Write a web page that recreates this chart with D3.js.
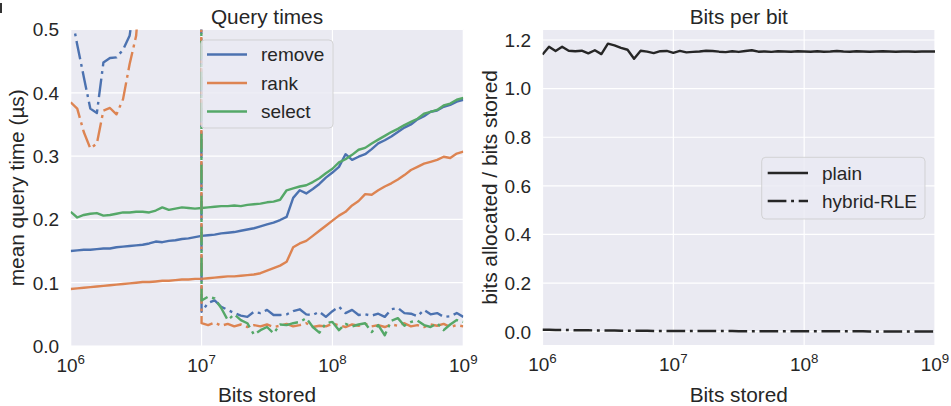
<!DOCTYPE html>
<html lang="en">
<head>
<meta charset="utf-8">
<title>Query times / Bits per bit</title>
<script src="https://d3js.org/d3.v7.min.js"></script>
<style>
  body { margin: 0; background: #fff; }
  svg { display: block; font-family: "Liberation Sans", Arial, sans-serif; }
</style>
</head>
<body>
<svg></svg>
<script>
// x positions: log10 of bits stored
const logBits = [
  6.00, 6.05, 6.10, 6.15, 6.20, 6.25, 6.30, 6.35, 6.40, 6.45, 6.50, 6.55, 6.60, 6.65, 6.70, 6.75, 6.80, 6.85, 6.90, 6.95,
  7.00, 7.05, 7.10, 7.15, 7.20, 7.25, 7.30, 7.35, 7.40, 7.45, 7.50, 7.55, 7.60, 7.65, 7.70, 7.75, 7.80, 7.85, 7.90, 7.95,
  8.00, 8.05, 8.10, 8.15, 8.20, 8.25, 8.30, 8.35, 8.40, 8.45, 8.50, 8.55, 8.60, 8.65, 8.70, 8.75, 8.80, 8.85, 8.90, 8.95, 9.00
];

// query times (µs), plain bit vector
const removePlain = [
  0.150, 0.151, 0.152, 0.152, 0.153, 0.154, 0.154, 0.156, 0.157, 0.158, 0.159, 0.160, 0.162, 0.165, 0.164, 0.166, 0.167, 0.169, 0.170, 0.172,
  0.174, 0.175, 0.176, 0.178, 0.179, 0.180, 0.182, 0.184, 0.186, 0.189, 0.192, 0.195, 0.199, 0.204, 0.234, 0.246, 0.241, 0.248, 0.256, 0.266,
  0.274, 0.283, 0.303, 0.294, 0.299, 0.303, 0.311, 0.320, 0.325, 0.331, 0.338, 0.345, 0.350, 0.358, 0.363, 0.370, 0.372, 0.378, 0.381, 0.386, 0.389
];
const rankPlain = [
  0.090, 0.091, 0.092, 0.093, 0.094, 0.095, 0.096, 0.097, 0.098, 0.099, 0.100, 0.101, 0.101, 0.102, 0.103, 0.103, 0.104, 0.105, 0.105, 0.106,
  0.106, 0.107, 0.108, 0.109, 0.110, 0.110, 0.111, 0.112, 0.113, 0.115, 0.119, 0.123, 0.127, 0.133, 0.156, 0.162, 0.166, 0.174, 0.182, 0.190,
  0.198, 0.206, 0.212, 0.222, 0.229, 0.240, 0.239, 0.246, 0.252, 0.257, 0.263, 0.270, 0.278, 0.283, 0.288, 0.291, 0.294, 0.299, 0.297, 0.304, 0.307
];
const selectPlain = [
  0.212, 0.203, 0.207, 0.209, 0.210, 0.206, 0.207, 0.209, 0.211, 0.211, 0.212, 0.212, 0.211, 0.214, 0.219, 0.215, 0.217, 0.219, 0.218, 0.217,
  0.218, 0.219, 0.220, 0.221, 0.221, 0.222, 0.221, 0.223, 0.224, 0.225, 0.227, 0.228, 0.231, 0.246, 0.249, 0.252, 0.254, 0.259, 0.265, 0.273,
  0.280, 0.290, 0.295, 0.302, 0.310, 0.313, 0.320, 0.326, 0.332, 0.338, 0.343, 0.349, 0.354, 0.359, 0.367, 0.370, 0.373, 0.380, 0.383, 0.389, 0.392
];

// query times (µs), hybrid-RLE bit vector (above 0.5 is off the chart)
const removeHybrid = [
  0.530, 0.476, 0.425, 0.375, 0.368, 0.448, 0.455, 0.456, 0.468, 0.490, 0.560, 0.680, 0.850, 1.100, 1.500, 2.100, 3.000, 4.500, 7.000, 11.00,
  0.054, 0.068, 0.072, 0.062, 0.057, 0.052, 0.048, 0.046, 0.054, 0.052, 0.057, 0.049, 0.049, 0.050, 0.055, 0.058, 0.050, 0.049, 0.054, 0.046,
  0.055, 0.062, 0.052, 0.057, 0.049, 0.050, 0.048, 0.051, 0.046, 0.058, 0.060, 0.052, 0.051, 0.047, 0.057, 0.050, 0.052, 0.046, 0.047, 0.052, 0.046
];
const rankHybrid = [
  0.385, 0.375, 0.338, 0.312, 0.320, 0.372, 0.376, 0.366, 0.390, 0.445, 0.490, 0.620, 0.800, 1.050, 1.400, 2.000, 2.900, 4.300, 6.800, 10.50,
  0.036, 0.033, 0.037, 0.032, 0.035, 0.031, 0.034, 0.030, 0.033, 0.031, 0.034, 0.030, 0.032, 0.035, 0.031, 0.033, 0.036, 0.030, 0.032, 0.031,
  0.035, 0.033, 0.030, 0.034, 0.032, 0.035, 0.031, 0.033, 0.030, 0.034, 0.032, 0.036, 0.031, 0.033, 0.030, 0.034, 0.032, 0.035, 0.030, 0.033, 0.031
];
const selectHybrid = [
  0.900, 0.950, 1.000, 1.050, 1.100, 1.200, 1.300, 1.400, 1.500, 1.650, 1.800, 2.000, 2.300, 2.700, 3.200, 4.000, 5.000, 6.500, 8.500, 12.00,
  0.072, 0.078, 0.075, 0.060, 0.041, 0.050, 0.041, 0.036, 0.018, 0.025, 0.030, 0.020, 0.034, 0.033, 0.036, 0.038, 0.044, 0.030, 0.021, 0.036,
  0.038, 0.025, 0.035, 0.031, 0.034, 0.036, 0.022, 0.033, 0.017, 0.040, 0.044, 0.032, 0.038, 0.040, 0.033, 0.030, 0.036, 0.025, 0.034, 0.041, 0.038
];

// bits allocated / bits stored
const plainBits = [
  1.140, 1.172, 1.155, 1.172, 1.156, 1.154, 1.156, 1.145, 1.158, 1.142, 1.185, 1.178, 1.168, 1.160, 1.123, 1.156, 1.152, 1.146, 1.154, 1.155,
  1.147, 1.155, 1.149, 1.151, 1.153, 1.156, 1.155, 1.152, 1.150, 1.154, 1.151, 1.155, 1.158, 1.152, 1.153, 1.151, 1.154, 1.153, 1.152, 1.154,
  1.153, 1.152, 1.154, 1.152, 1.153, 1.155, 1.153, 1.152, 1.154, 1.153, 1.152, 1.153, 1.154, 1.153, 1.152, 1.153, 1.153, 1.152, 1.153, 1.153, 1.153
];
const hybridBits = [
  0.008, 0.008, 0.007, 0.007, 0.007, 0.006, 0.006, 0.006, 0.005, 0.005, 0.005, 0.005, 0.004, 0.004, 0.004, 0.004, 0.004, 0.003, 0.003, 0.003,
  0.003, 0.003, 0.003, 0.003, 0.003, 0.003, 0.003, 0.003, 0.003, 0.003, 0.002, 0.002, 0.002, 0.002, 0.002, 0.002, 0.002, 0.002, 0.002, 0.002,
  0.002, 0.002, 0.002, 0.002, 0.002, 0.002, 0.002, 0.002, 0.002, 0.002, 0.001, 0.001, 0.001, 0.001, 0.001, 0.001, 0.001, 0.001, 0.001, 0.001, 0.001
];

const ops = ["remove", "rank", "select"];
const opColors = ["#4C72B0", "#DD8452", "#55A868"];
const xTickExps = [6, 7, 8, 9];
const leftYTicks = [0.0, 0.1, 0.2, 0.3, 0.4, 0.5];
const rightYTicks = [0.0, 0.2, 0.4, 0.6, 0.8, 1.0, 1.2];
const styles = ["plain", "hybrid-RLE"];

const W = 951, H = 406;
const INK = "#262626";
const BG = "#EAEAF2";
const DASHDOT = "18.7,4.7,2.9,4.7";
const LW = 2.4;

const svg = d3.select("svg").attr("width", W).attr("height", H);
svg.append("rect").attr("width", W).attr("height", H).attr("fill", "#fff");

// stray mark in the top-left corner of the original
svg.append("rect").attr("x", 0).attr("y", 3).attr("width", 2).attr("height", 10).attr("fill", "#333");

function panel(id, box, yDomain, yTicks, title, yLabel, yLabelX) {
  const x = d3.scaleLog().domain([1e6, 1e9]).range([box.x0, box.x1]);
  const y = d3.scaleLinear().domain(yDomain).range([box.y1, box.y0]);
  const g = svg.append("g");

  g.append("rect")
    .attr("x", box.x0).attr("y", box.y0)
    .attr("width", box.x1 - box.x0).attr("height", box.y1 - box.y0)
    .attr("fill", BG);

  svg.append("clipPath").attr("id", id)
    .append("rect")
    .attr("x", box.x0).attr("y", box.y0)
    .attr("width", box.x1 - box.x0).attr("height", box.y1 - box.y0);

  // grid
  g.selectAll(".gx").data(xTickExps).enter().append("line")
    .attr("x1", d => x(Math.pow(10, d))).attr("x2", d => x(Math.pow(10, d)))
    .attr("y1", box.y0).attr("y2", box.y1)
    .attr("stroke", "#fff").attr("stroke-width", 1.2);
  g.selectAll(".gy").data(yTicks).enter().append("line")
    .attr("x1", box.x0).attr("x2", box.x1)
    .attr("y1", d => y(d)).attr("y2", d => y(d))
    .attr("stroke", "#fff").attr("stroke-width", 1.2);

  // tick labels
  g.selectAll(".ty").data(yTicks).enter().append("text")
    .attr("x", box.x0 - 11.5).attr("y", d => y(d))
    .attr("dy", "0.36em")
    .attr("text-anchor", "end")
    .attr("font-size", 19).attr("fill", INK)
    .text(d3.format(".1f"));

  const tx = g.selectAll(".tx").data(xTickExps).enter().append("text")
    .attr("x", d => x(Math.pow(10, d))).attr("y", box.y1 + 25.5)
    .attr("text-anchor", "middle")
    .attr("font-size", 19).attr("fill", INK);
  tx.append("tspan").text("10");
  tx.append("tspan").attr("dy", -8).attr("font-size", 13.3).text(d => d);

  g.append("text")
    .attr("x", (box.x0 + box.x1) / 2).attr("y", 23.5)
    .attr("text-anchor", "middle")
    .attr("font-size", 20.8).attr("fill", INK)
    .text(title);

  g.append("text")
    .attr("x", (box.x0 + box.x1) / 2).attr("y", 401.5)
    .attr("text-anchor", "middle")
    .attr("font-size", 20.8).attr("fill", INK)
    .text("Bits stored");

  g.append("text")
    .attr("transform", `translate(${yLabelX},${(box.y0 + box.y1) / 2}) rotate(-90)`)
    .attr("text-anchor", "middle")
    .attr("font-size", 20.8).attr("fill", INK)
    .text(yLabel);

  const lines = svg.append("g").attr("clip-path", `url(#${id})`);
  return { x, y, lines };
}

function drawLine(p, values, color, dashed) {
  const line = d3.line()
    .x((d, i) => p.x(Math.pow(10, logBits[i])))
    .y(d => p.y(d));
  p.lines.append("path")
    .datum(values)
    .attr("d", line)
    .attr("fill", "none")
    .attr("stroke", color)
    .attr("stroke-width", LW)
    .attr("stroke-linejoin", "round")
    .attr("stroke-dasharray", dashed ? DASHDOT : null);
}

function legend(box, rows) {
  const g = svg.append("g");
  g.append("rect")
    .attr("x", box.x).attr("y", box.y)
    .attr("width", box.w).attr("height", box.h)
    .attr("rx", 4)
    .attr("fill", BG).attr("fill-opacity", 0.8)
    .attr("stroke", "#cccccc").attr("stroke-opacity", 0.8).attr("stroke-width", 1);
  rows.forEach((r, i) => {
    const yy = box.rowY[i];
    g.append("line")
      .attr("x1", box.lx0).attr("x2", box.lx1)
      .attr("y1", yy).attr("y2", yy)
      .attr("stroke", r.color).attr("stroke-width", LW)
      .attr("stroke-dasharray", r.dashed ? DASHDOT : null);
    g.append("text")
      .attr("x", box.tx).attr("y", yy).attr("dy", "0.36em")
      .attr("font-size", 19).attr("fill", INK)
      .text(r.label);
  });
}

// left: query times
const leftPanel = panel("clipL", { x0: 70.7, x1: 463.3, y0: 29.5, y1: 346 },
  [0, 0.5], leftYTicks, "Query times", "mean query time (µs)", 23.5);

const plainSeries = [removePlain, rankPlain, selectPlain];
const hybridSeries = [removeHybrid, rankHybrid, selectHybrid];
ops.forEach((op, i) => drawLine(leftPanel, plainSeries[i], opColors[i], false));
ops.forEach((op, i) => drawLine(leftPanel, hybridSeries[i], opColors[i], true));

legend({ x: 200.7, y: 40, w: 132.3, h: 88, rowY: [54.5, 83, 111.5], lx0: 207, lx1: 247, tx: 261 },
  ops.map((op, i) => ({ label: op, color: opColors[i], dashed: false })));

// right: bits per bit
const rightPanel = panel("clipR", { x0: 542.5, x1: 935, y0: 30, y1: 345 },
  [-0.0547, 1.2412], rightYTicks, "Bits per bit", "bits allocated / bits stored", 496.5);

drawLine(rightPanel, plainBits, INK, false);
drawLine(rightPanel, hybridBits, INK, true);

legend({ x: 761.7, y: 157.3, w: 163.3, h: 61.7, rowY: [173, 201], lx0: 767.7, lx1: 808, tx: 822 },
  styles.map((s, i) => ({ label: s, color: INK, dashed: i === 1 })));
</script>
</body>
</html>
